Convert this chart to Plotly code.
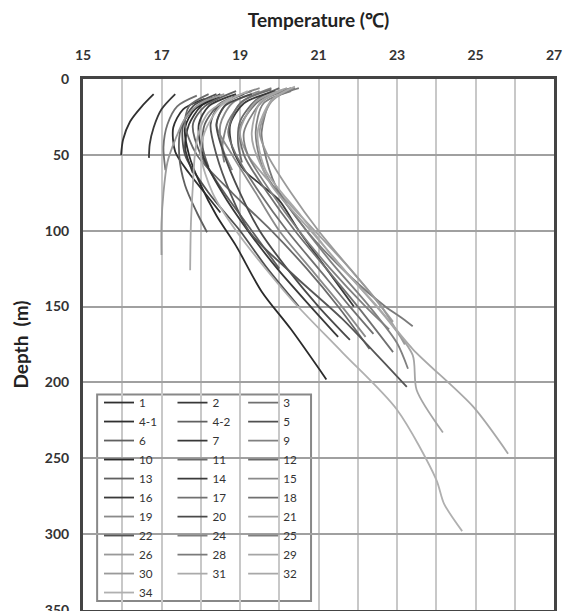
import plotly.graph_objects as go

# ---- data: temperature profiles (°C) vs depth (m) ----
profile_names = ["1", "2", "3", "4-1", "4-2", "5", "6", "7", "9", "10", "11", "12",
                 "13", "14", "15", "16", "17", "18", "19", "20", "21", "22", "24", "25",
                 "26", "28", "29", "30", "31", "32", "34"]

profile_colors = ["#303030", "#383838", "#707070", "#303030", "#606060", "#505050",
                  "#606060", "#383838", "#808080", "#2a2a2a", "#6a6a6a", "#6a6a6a",
                  "#606060", "#3a3a3a", "#8a8a8a", "#3a3a3a", "#707070", "#707070",
                  "#8a8a8a", "#4a4a4a", "#a0a0a0", "#555555", "#808080", "#808080",
                  "#999999", "#7a7a7a", "#a5a5a5", "#9a9a9a", "#aaaaaa", "#a8a8a8",
                  "#b0b0b0"]

profile_depths = [
    [10, 18, 28, 40, 50],                                  # 1
    [10, 20, 32, 43, 52],                                  # 2
    [11, 18, 30, 45, 60],                                  # 3
    [13, 20, 32, 48, 62, 75, 88],                          # 4-1
    [12, 20, 32, 50, 70, 88, 101],                         # 4-2
    [10, 18, 30, 50, 75, 100, 125, 150],                   # 5
    [8, 16, 30, 45, 58],                                   # 6
    [10, 18, 30, 45, 62],                                  # 7
    [6, 14, 28, 45, 55],                                   # 9
    [12, 20, 32, 50, 70, 90, 110, 140, 165, 198],          # 10
    [10, 18, 30, 50, 75, 100, 125, 150, 178],              # 11
    [6, 14, 28, 42, 55],                                   # 12
    [8, 18, 30, 50, 75, 100, 125],                         # 13
    [8, 16, 30, 45, 60, 70, 80, 100, 125, 150],            # 14
    [6, 15, 30, 50, 75, 100, 125, 150, 170],               # 15
    [10, 18, 30, 50, 75, 100, 125, 150, 170],              # 16
    [7, 16, 35, 50, 75, 100, 125, 150, 168],               # 17
    [6, 14, 32, 50, 75, 100, 125, 150, 180],               # 18
    [8, 16, 30, 45, 60],                                   # 19
    [10, 18, 30, 50, 75, 100, 125, 150, 172],              # 20
    [6, 15, 35, 50, 75, 100, 125, 150, 160],               # 21
    [10, 18, 30, 50, 75, 101, 130, 158, 185, 203],         # 22
    [8, 16, 35, 60, 90, 120, 150, 174, 191],               # 24
    [6, 14, 35, 50, 75, 100, 125, 150, 165],               # 25
    [10, 16, 26, 40, 55, 75, 95, 116],                     # 26
    [6, 14, 35, 45, 70, 100, 130, 150, 158, 163],          # 28
    [7, 16, 35, 45, 70, 100, 130, 160, 182, 205, 233],     # 29
    [6, 15, 35, 50, 75, 100, 125, 150, 175],               # 30
    [12, 22, 35, 50, 70, 95, 126],                         # 31
    [5, 14, 35, 60, 90, 120, 150, 178, 216, 247],          # 32
    [8, 18, 35, 50, 75, 100, 145, 180, 218, 264, 280, 298],  # 34
]

profile_temps = [
    [16.8, 16.5, 16.2, 16.02, 15.97],
    [17.35, 17.0, 16.8, 16.7, 16.68],
    [17.9, 17.4, 17.15, 17.05, 17.1],
    [18.1, 17.55, 17.3, 17.35, 17.7, 18.1, 18.5],
    [18.3, 17.8, 17.5, 17.45, 17.6, 17.9, 18.16],
    [18.4, 17.8, 17.55, 17.6, 18.2, 19.0, 19.7, 20.5],
    [19.3, 18.5, 18.1, 18.05, 18.2],
    [18.5, 18.0, 17.7, 17.6, 17.8],
    [19.8, 19.1, 18.7, 18.55, 18.6],
    [18.5, 17.85, 17.6, 17.7, 18.0, 18.4, 18.9, 19.55, 20.3, 21.2],
    [18.2, 17.7, 17.6, 17.9, 18.8, 19.8, 20.7, 21.5, 22.3],
    [20.0, 19.4, 19.0, 18.95, 19.05],
    [18.9, 18.1, 17.8, 18.0, 18.6, 19.3, 20.0],
    [19.9, 19.1, 18.75, 18.8, 19.1, 19.55, 20.0, 20.5, 21.2, 21.9],
    [19.5, 18.7, 18.4, 18.8, 19.4, 20.0, 20.8, 21.6, 22.2],
    [18.9, 18.2, 17.95, 18.05, 18.55, 19.2, 19.95, 20.8, 21.5],
    [19.8, 19.0, 18.7, 18.9, 19.5, 20.2, 21.0, 21.8, 22.4],
    [20.3, 19.5, 19.0, 19.1, 19.7, 20.4, 21.2, 22.0, 22.9],
    [19.5, 18.8, 18.5, 18.55, 18.8],
    [19.3, 18.6, 18.4, 18.6, 19.0, 19.5, 20.2, 21.0, 21.8],
    [20.2, 19.4, 19.0, 19.2, 20.0, 20.9, 21.8, 22.6, 22.9],
    [19.1, 18.45, 18.25, 18.4, 18.75, 19.25, 20.4, 21.6, 22.6, 23.25],
    [20.3, 19.6, 19.4, 19.6, 20.4, 21.3, 22.3, 23.0, 23.28],
    [20.4, 19.6, 19.1, 19.2, 19.8, 20.5, 21.3, 22.2, 22.8],
    [18.6, 18.0, 17.6, 17.35, 17.15, 17.05, 17.0, 17.0],
    [20.5, 19.8, 19.55, 19.6, 19.9, 20.7, 21.8, 22.7, 23.15, 23.4],
    [20.1, 19.5, 19.3, 19.35, 19.8, 20.8, 21.8, 22.8, 23.4, 23.5, 24.17],
    [20.3, 19.8, 19.5, 19.7, 20.3, 21.0, 21.8, 22.6, 23.2],
    [18.8, 18.2, 17.95, 17.85, 17.8, 17.75, 17.73],
    [20.4, 19.8, 19.45, 19.65, 20.55, 21.45, 22.5, 23.4, 24.94, 25.83],
    [19.2, 18.5, 18.1, 18.0, 18.3, 18.9, 20.3, 21.6, 23.0, 24.0, 24.2, 24.66],
]

x_ticks = [15, 17, 19, 21, 23, 25, 27]
y_ticks = [0, 50, 100, 150, 200, 250, 300, 350]

FONT = "Lato"

fig = go.Figure()
legend_ids = ["legend", "legend2", "legend3"]
for i, name in enumerate(profile_names):
    fig.add_trace(go.Scatter(
        x=profile_temps[i], y=profile_depths[i], name=name, mode="lines",
        line=dict(color=profile_colors[i], width=1.8, shape="spline", smoothing=0.8),
        legend=legend_ids[i % 3],
    ))

# legend frame
fig.add_shape(type="rect", xref="x", yref="y", x0=15.36, x1=20.81, y0=208, y1=344,
              line=dict(color="#888888", width=2), fillcolor="white", layer="below")

leg_common = dict(xanchor="left", yanchor="top", bgcolor="rgba(0,0,0,0)",
                  font=dict(family=FONT, size=11.7, color="#333333"),
                  itemwidth=30, tracegroupgap=0, borderwidth=0)
fig.update_layout(
    legend=dict(x=0.034, y=0.418, **leg_common),
    legend2=dict(x=0.19, y=0.418, **leg_common),
    legend3=dict(x=0.34, y=0.418, **leg_common),
)

fig.update_xaxes(
    side="top", range=[15, 27], tickvals=x_ticks,
    tickfont=dict(family=FONT, size=14, color="#333333", weight="bold"),
    ticklabelstandoff=10,
    showgrid=True, gridcolor="#c8c8c8", gridwidth=2,
    minor=dict(dtick=1, showgrid=True, gridcolor="#c8c8c8", gridwidth=2),
    showline=True, mirror=True, linecolor="#444444", linewidth=3,
    ticks="", zeroline=False, automargin=False,
    title=dict(text="Temperature (℃)", font=dict(family=FONT, size=19, color="#222222", weight="bold"),
               standoff=14),
)
fig.update_yaxes(
    range=[350, 0], tickvals=y_ticks,
    tickfont=dict(family=FONT, size=14, color="#333333", weight="bold"),
    ticklabelstandoff=8, ticklabeloverflow="allow",
    showgrid=True, gridcolor="#a0a0a0", gridwidth=1.5,
    showline=True, mirror=True, linecolor="#444444", linewidth=3,
    ticks="", zeroline=False, automargin=False,
    title=dict(text="Depth  (m)", font=dict(family=FONT, size=19, color="#222222", weight="bold"),
               standoff=12),
)

fig.update_layout(
    width=566, height=611,
    margin=dict(l=83, r=12, t=79, b=1),
    plot_bgcolor="white", paper_bgcolor="white",
    showlegend=True,
)

fig.write_html("out.html")
